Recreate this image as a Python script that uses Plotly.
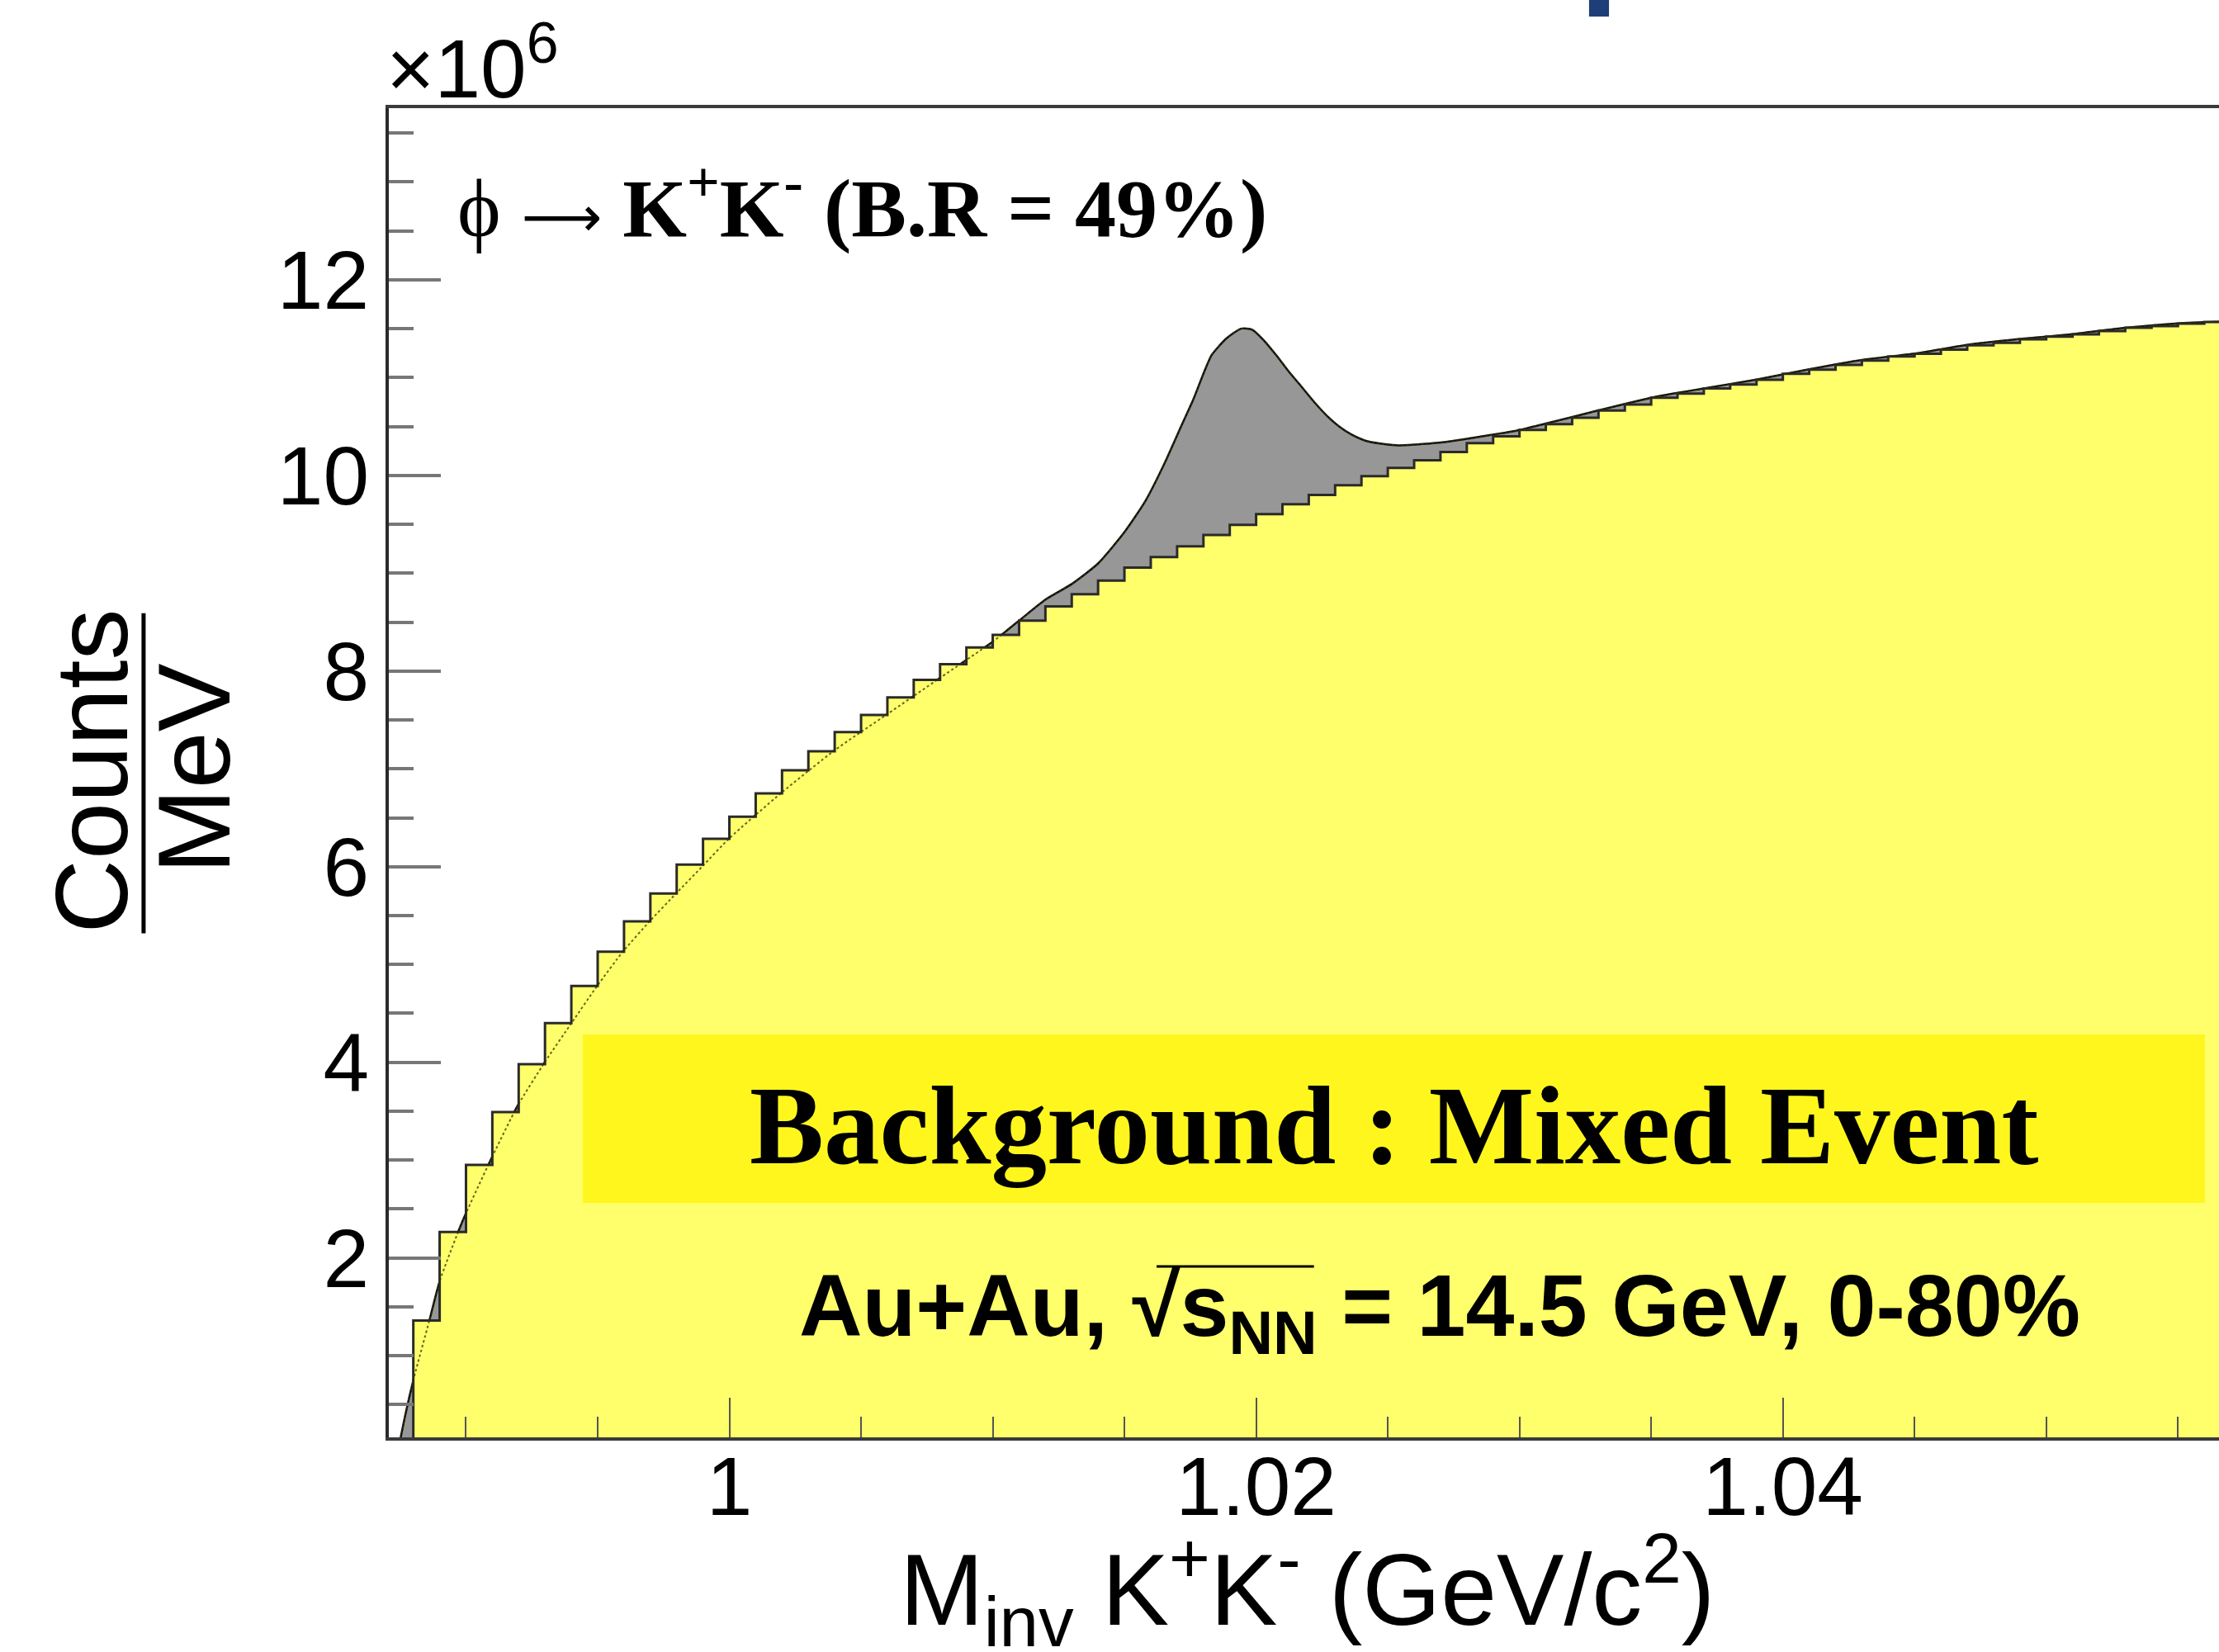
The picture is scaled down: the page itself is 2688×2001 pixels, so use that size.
import plotly.graph_objects as go

# K+K- invariant-mass histogram (mixed-event background), 1 MeV bins, in units of 10^6 counts/MeV
BIN_LO = 0.987
BIN_WIDTH = 0.001
bkg_counts = [
    0.0, 1.36, 2.265, 2.95, 3.49, 3.98, 4.40, 4.78, 5.13, 5.44, 5.725, 6.02, 6.285,
    6.51, 6.75, 6.985, 7.18, 7.375, 7.55, 7.73, 7.91, 8.07, 8.24,
    8.37, 8.515, 8.66, 8.785, 8.925, 9.057, 9.165, 9.275, 9.39, 9.495,
    9.605, 9.705, 9.80, 9.90, 9.993, 10.077, 10.155, 10.24, 10.33, 10.40,
    10.465, 10.525, 10.59, 10.663, 10.724, 10.794, 10.837, 10.89, 10.93, 10.978,
    11.04, 11.082, 11.13, 11.175, 11.217, 11.243, 11.287, 11.33, 11.355, 11.391,
    11.419, 11.442, 11.476, 11.51, 11.526, 11.552, 11.568,
]

# Same-event K+K- distribution (signal + background), smooth curve
total_mass = [
    0.98740, 0.98770, 0.98803, 0.98860, 0.98900, 0.98986, 0.99090, 0.99195, 0.99299,
    0.99403, 0.99498, 0.99597, 0.99697, 0.99801, 0.99900, 1.00000, 1.00200, 1.00400,
    1.00600, 1.00800, 1.01000, 1.01100, 1.01200, 1.01300, 1.01400, 1.01500, 1.01580,
    1.01650, 1.01720, 1.01762, 1.01803, 1.01831, 1.01887, 1.01943, 1.01985, 1.02028,
    1.02076, 1.02124, 1.02172, 1.02220, 1.02268, 1.02316, 1.02364, 1.02412, 1.02472,
    1.02532, 1.02604, 1.02700, 1.02796, 1.02892, 1.02988, 1.03100, 1.03300, 1.03500,
    1.03700, 1.03900, 1.04100, 1.04300, 1.04500, 1.04700, 1.04900, 1.05100, 1.05300,
    1.05500, 1.05700,
]
total_counts = [
    0.00, 0.40, 0.78, 1.35, 1.76, 2.37, 2.98, 3.55, 4.00,
    4.41, 4.78, 5.135, 5.44, 5.735, 6.01, 6.29, 6.76, 7.19,
    7.56, 7.93, 8.30, 8.515, 8.73, 8.89, 9.10, 9.42, 9.74,
    10.11, 10.53, 10.78, 11.06, 11.23, 11.40, 11.50, 11.49, 11.385,
    11.231, 11.062, 10.908, 10.752, 10.612, 10.499, 10.415, 10.358, 10.325,
    10.308, 10.316, 10.336, 10.372, 10.415, 10.457, 10.53, 10.665, 10.795,
    10.89, 10.98, 11.085, 11.18, 11.245, 11.335, 11.395, 11.445, 11.51,
    11.555, 11.575,
]

X_RANGE = [0.98707, 1.05656]
Y_RANGE = [0.165, 13.755]

# step outline: left edges plus the closing right edge
edges = [BIN_LO + i * BIN_WIDTH for i in range(len(bkg_counts) + 1)]
step_x = edges
step_y = bkg_counts + [bkg_counts[-1]]

SANS = "Liberation Sans, Arial, sans-serif"
SERIF = "Liberation Serif, Times New Roman, serif"
GRAY_FILL = "#979797"
YELLOW_FILL = "#ffff6c"

fig = go.Figure()

# signal + background, gray filled
fig.add_trace(go.Scatter(
    x=total_mass, y=total_counts, mode="lines",
    line=dict(color="#111111", width=2.5, shape="spline", smoothing=0.6),
    fill="tozeroy", fillcolor=GRAY_FILL, hoverinfo="skip",
))

# mixed-event background histogram
fig.add_trace(go.Scatter(
    x=step_x, y=step_y, mode="lines",
    line=dict(color="#2a2a2a", width=3, shape="hv"),
    fill="tozeroy", fillcolor=YELLOW_FILL, hoverinfo="skip",
))

# outline of the total curve seen through the background fill
fig.add_trace(go.Scatter(
    x=total_mass, y=total_counts, mode="lines",
    line=dict(color="rgba(50,50,0,0.75)", width=2, dash="dot", shape="spline", smoothing=0.6),
    hoverinfo="skip",
))

fig.update_layout(
    width=2688, height=2001,
    margin=dict(l=471, r=0, t=131, b=260, autoexpand=False),
    paper_bgcolor="white", plot_bgcolor="white",
    showlegend=False,
    font=dict(family=SANS, color="black"),
)

fig.update_xaxes(
    range=X_RANGE, tickmode="linear", tick0=1.0, dtick=0.02,
    ticks="inside", ticklen=48, tickwidth=2, tickcolor="#555555",
    minor=dict(tick0=1.0, dtick=0.005, ticks="inside", ticklen=25, tickwidth=2, tickcolor="#555555"),
    showline=True, linewidth=4, linecolor="#3a3a3a", mirror=True,
    showgrid=False, zeroline=False, ticklabelstandoff=-30,
    tickfont=dict(family=SANS, size=100, color="black"),
)
fig.update_yaxes(
    range=Y_RANGE, tickmode="linear", tick0=0, dtick=2,
    ticks="inside", ticklen=63, tickwidth=4, tickcolor="#777777",
    minor=dict(tick0=0, dtick=0.5, ticks="inside", ticklen=30, tickwidth=4, tickcolor="#777777"),
    showline=True, linewidth=4, linecolor="#2a2a2a",
    showgrid=False, zeroline=False,
    tickfont=dict(family=SANS, size=100, color="black"),
)

shapes = [
    # label box for the background method
    dict(type="rect", xref="paper", yref="paper", x0=0.106, x1=0.9923, y0=0.1764, y1=0.3031,
         fillcolor="#fff61e", line=dict(width=0), layer="above"),
    # overline of the square root in the collision label
    dict(type="line", xref="paper", yref="paper", x0=0.4195, x1=0.5055, y0=0.1286, y1=0.1286,
         line=dict(color="black", width=3), layer="above"),
    # fraction bar of the y title
    dict(type="line", xref="paper", yref="paper", x0=-0.134, x1=-0.134, y0=0.3792, y1=0.6201,
         line=dict(color="black", width=5)),
    # small navy mark at the top edge
    dict(type="rect", xref="paper", yref="paper", x0=0.6558, x1=0.6667, y0=1.0689, y1=1.0814,
         fillcolor="#1d3e78", line=dict(width=0)),
]

ARROW = "<span style='font-family:DejaVu Sans;font-weight:normal;font-size:68px'>⟶</span>"

annotations = [
    dict(text="×10<sup>6</sup>", xref="paper", yref="paper", x=-0.0023, y=0.9938,
         xanchor="left", yanchor="bottom", showarrow=False,
         font=dict(family=SANS, size=100, color="black")),
    dict(text="ϕ " + ARROW + " <b>K<sup>+</sup>K<sup>-</sup> (B.R = 49%)</b>", xref="paper", yref="paper",
         x=0.0365, y=0.9292, xanchor="left", yanchor="middle", showarrow=False,
         font=dict(family=SERIF, size=100, color="black")),
    dict(text="<b>Background : Mixed Event</b>", xref="paper", yref="paper",
         x=0.549, y=0.2342, xanchor="center", yanchor="middle", showarrow=False,
         font=dict(family=SERIF, size=135, color="black")),
    dict(text="<b>Au+Au, √s<sub>NN</sub> = 14.5 GeV, 0-80%</b>", xref="paper", yref="paper",
         x=0.5742, y=0.0944, xanchor="center", yanchor="middle", showarrow=False,
         font=dict(family=SANS, size=106, color="black")),
    dict(text="M<sub>inv</sub> K<sup>+</sup>K<sup>-</sup> (GeV/c<sup>2</sup>)", xref="paper", yref="paper",
         x=0.502, y=-0.1149, xanchor="center", yanchor="middle", showarrow=False,
         font=dict(family=SANS, size=122, color="black")),
    dict(text="Counts", xref="paper", yref="paper", x=-0.1622, y=0.5012, textangle=-90,
         xanchor="center", yanchor="middle", showarrow=False,
         font=dict(family=SANS, size=124, color="black")),
    dict(text="MeV", xref="paper", yref="paper", x=-0.1064, y=0.5028, textangle=-90,
         xanchor="center", yanchor="middle", showarrow=False,
         font=dict(family=SANS, size=124, color="black")),
]

fig.update_layout(shapes=shapes, annotations=annotations)

fig.write_html("out.html")
